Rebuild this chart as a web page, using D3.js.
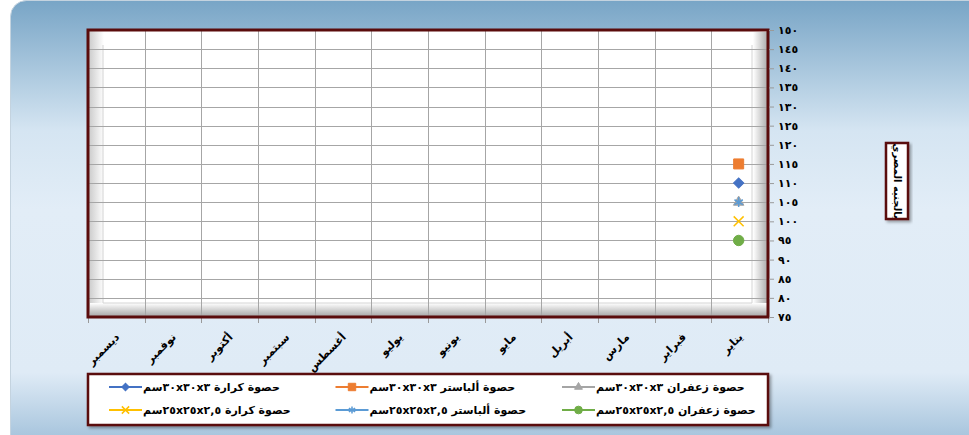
<!DOCTYPE html>
<html>
<head>
<meta charset="utf-8">
<script src="https://cdn.jsdelivr.net/npm/d3@7"></script>
<style>
	body { margin: 0; background: #fff; overflow: hidden }
	text { font-family: "DejaVu Sans", sans-serif; font-weight: bold; fill: #000 }
</style>
</head>
<body>
<div id="chart"></div>
<script>
// months, right to left (Jan on the right)
const months = ["يناير", "فبراير", "مارس", "أبريل", "مايو", "يونيو",
	"يوليو", "أغسطس", "سبتمبر", "أكتوبر", "نوفمبر", "ديسمبر"]

const seriesNames = [
	"حصوة كرارة ٣٠x٣٠x٣سم",
	"حصوة ألباستر ٣٠x٣٠x٣سم",
	"حصوة زعفران ٣٠x٣٠x٣سم",
	"حصوة كرارة ٢٥x٢٥x٢,٥سم",
	"حصوة ألباستر ٢٥x٢٥x٢,٥سم",
	"حصوة زعفران ٢٥x٢٥x٢,٥سم"
]

// only January has a price so far
const karara30 = [110, null, null, null, null, null, null, null, null, null, null, null]
const alabaster30 = [115, null, null, null, null, null, null, null, null, null, null, null]
const zaafaran30 = [105, null, null, null, null, null, null, null, null, null, null, null]
const karara25 = [100, null, null, null, null, null, null, null, null, null, null, null]
const alabaster25 = [105, null, null, null, null, null, null, null, null, null, null, null]
const zaafaran25 = [95, null, null, null, null, null, null, null, null, null, null, null]

const yTicks = [75, 80, 85, 90, 95, 100, 105, 110, 115, 120, 125, 130, 135, 140, 145, 150]
const yTitle = "بالجنيه المصري"

const seriesValues = [karara30, alabaster30, zaafaran30, karara25, alabaster25, zaafaran25]
const colors = ["#4472C4", "#ED7D31", "#A5A5A5", "#FFC000", "#5B9BD5", "#70AD47"]
const border = "#5a0c0c"

const arDigits = v => String(v).replace(/\d/g, c => "٠١٢٣٤٥٦٧٨٩"[c])

const W = 969, H = 435
const plot = {left: 88, right: 768, top: 30, bottom: 317}

const svg = d3.select("#chart")
	.append("svg")
	.attr("width", W)
	.attr("height", H)

const defs = svg.append("defs")

const bg = defs.append("linearGradient").attr("id", "bg")
	.attr("x1", 0).attr("y1", 0).attr("x2", 0).attr("y2", 1)
bg.append("stop").attr("offset", 0).attr("stop-color", "#78a5c6")
bg.append("stop").attr("offset", 0.28).attr("stop-color", "#d5e5f2")
bg.append("stop").attr("offset", 0.45).attr("stop-color", "#e2edf7")
bg.append("stop").attr("offset", 0.8).attr("stop-color", "#dfebf6")
bg.append("stop").attr("offset", 1).attr("stop-color", "#8fb4d2")

function bevel(id, x1, y1, x2, y2, from, to) {
	const g = defs.append("linearGradient").attr("id", id)
		.attr("x1", x1).attr("y1", y1).attr("x2", x2).attr("y2", y2)
	g.append("stop").attr("offset", 0).attr("stop-color", from)
	g.append("stop").attr("offset", 1).attr("stop-color", to)
}
bevel("bvLeft", 0, 0, 1, 0, "#cccccc", "#ffffff")
bevel("bvRight", 0, 0, 1, 0, "#ffffff", "#a9a9a9")
bevel("bvBottom", 0, 0, 0, 1, "#ffffff", "#a3a3a3")

const shadow = defs.append("filter").attr("id", "shadow")
	.attr("x", "-20%").attr("y", "-20%").attr("width", "140%").attr("height", "140%")
shadow.append("feDropShadow")
	.attr("dx", 2).attr("dy", 2).attr("stdDeviation", 1.5)
	.attr("flood-color", "#000").attr("flood-opacity", 0.35)

// chart background
svg.append("rect")
	.attr("x", 10.5).attr("y", 0.5)
	.attr("width", W + 20).attr("height", H + 30)
	.attr("rx", 16)
	.attr("fill", "url(#bg)")
	.attr("stroke", "#c4d3df")

const x = d3.scaleBand()
	.domain(months)
	.range([plot.right, plot.left])

const y = d3.scaleLinear()
	.domain([75, 150])
	.range([plot.bottom, plot.top])

// plot area with bevel
svg.append("rect")
	.attr("x", plot.left).attr("y", plot.top)
	.attr("width", plot.right - plot.left).attr("height", plot.bottom - plot.top)
	.attr("fill", "#fff")

svg.append("rect")
	.attr("x", plot.left + 1).attr("y", plot.top + 1)
	.attr("width", 15).attr("height", plot.bottom - plot.top - 2)
	.attr("fill", "url(#bvLeft)")
svg.append("rect")
	.attr("x", 753).attr("y", plot.top + 2)
	.attr("width", plot.right - 753).attr("height", plot.bottom - plot.top - 3)
	.attr("fill", "url(#bvRight)")
svg.append("rect")
	.attr("x", plot.left + 2).attr("y", 303)
	.attr("width", plot.right - plot.left - 3).attr("height", plot.bottom - 303)
	.attr("fill", "url(#bvBottom)")
svg.append("path")
	.attr("d", `M103,45V303H752V45`)
	.attr("fill", "none")
	.attr("stroke", "#d4d4d4")

// grid
svg.append("g")
	.selectAll("line")
	.data(yTicks.filter(d => d > 75 && d < 150))
	.enter().append("line")
	.attr("x1", plot.left).attr("x2", plot.right)
	.attr("y1", d => Math.round(y(d)) + 0.5).attr("y2", d => Math.round(y(d)) + 0.5)
	.attr("stroke", "#a6a6a6")

svg.append("g")
	.selectAll("line")
	.data(months.filter(m => x(m) > plot.left + 1))
	.enter().append("line")
	.attr("x1", d => Math.round(x(d)) + 0.5).attr("x2", d => Math.round(x(d)) + 0.5)
	.attr("y1", plot.top).attr("y2", plot.bottom)
	.attr("stroke", "#a6a6a6")

// x ticks at month boundaries
svg.append("g")
	.selectAll("line")
	.data(months.map(m => x(m)).concat([plot.right]))
	.enter().append("line")
	.attr("x1", d => Math.round(d) + 0.5).attr("x2", d => Math.round(d) + 0.5)
	.attr("y1", plot.bottom).attr("y2", plot.bottom + 6)
	.attr("stroke", "#9a9a9a")

svg.append("rect")
	.attr("x", plot.left).attr("y", plot.top)
	.attr("width", plot.right - plot.left).attr("height", plot.bottom - plot.top)
	.attr("fill", "none")
	.attr("stroke", border)
	.attr("stroke-width", 3)

// y axis on the right
const yAxisGroup = svg.append("g")
	.attr("transform", `translate(${plot.right + 1},0)`)
	.call(d3.axisRight(y).tickValues(yTicks).tickFormat(arDigits).tickSize(5).tickPadding(4))
yAxisGroup.select(".domain").remove()
yAxisGroup.selectAll(".tick line").attr("stroke", "#9a9a9a")
yAxisGroup.selectAll("text")
	.attr("font-size", 11)
	.attr("font-family", null)
	.attr("fill", "#000")

// x labels
svg.append("g")
	.selectAll("text")
	.data(months)
	.enter().append("text")
	.attr("transform", d => `translate(${x(d) + x.bandwidth() / 2 + 1},${plot.bottom + 18}) rotate(-45)`)
	.attr("text-anchor", "end")
	.attr("dy", "0.35em")
	.attr("font-size", 11)
	.text(d => d)

// markers: diamond, square, triangle, x, asterisk, circle
const symbolTypes = [d3.symbolSquare, d3.symbolSquare, d3.symbolTriangle,
	d3.symbolTimes, d3.symbolAsterisk, d3.symbolCircle]
const symbolSizes = [52, 100, 48, 66, 66, 85]
const stroked = [false, false, false, true, true, false]

function drawMarker(g, i, scale) {
	const p = g.append("path")
		.attr("d", d3.symbol().type(symbolTypes[i]).size(symbolSizes[i] * scale)())
		.attr("transform", i === 0 ? "rotate(45)" : null)
	if (stroked[i]) p.attr("fill", "none").attr("stroke", colors[i]).attr("stroke-width", 1.5)
	else p.attr("fill", colors[i]).attr("stroke", colors[i])
}

seriesValues.forEach((vals, i) => {
	vals.forEach((v, j) => {
		if (v === null) return
		const g = svg.append("g")
			.attr("transform", `translate(${x(months[j]) + x.bandwidth() / 2 - 1},${y(v)})`)
		drawMarker(g, i, 1)
	})
})

// y title box
svg.append("rect")
	.attr("x", 886).attr("y", 143)
	.attr("width", 22).attr("height", 76)
	.attr("fill", "#fff")
	.attr("stroke", border)
	.attr("stroke-width", 2.5)
	.attr("filter", "url(#shadow)")
svg.append("text")
	.attr("transform", "translate(897,181) rotate(90)")
	.attr("text-anchor", "middle")
	.attr("dy", "0.35em")
	.attr("font-size", 10)
	.text(yTitle)

// legend
const legend = svg.append("g")
legend.append("rect")
	.attr("x", 88).attr("y", 374)
	.attr("width", 680).attr("height", 51)
	.attr("fill", "#fff")
	.attr("stroke", border)
	.attr("stroke-width", 2.5)
	.attr("filter", "url(#shadow)")

seriesNames.forEach((name, i) => {
	const lx = 109 + (i % 3) * 226.5
	const ly = 387 + Math.floor(i / 3) * 23
	const item = legend.append("g")
	item.append("line")
		.attr("x1", lx).attr("x2", lx + 33)
		.attr("y1", ly).attr("y2", ly)
		.attr("stroke", colors[i])
		.attr("stroke-width", 2)
	drawMarker(item.append("g").attr("transform", `translate(${lx + 16.5},${ly})`), i, 0.55)
	item.append("text")
		.attr("x", lx + 34)
		.attr("y", ly)
		.attr("dy", "0.35em")
		.attr("direction", "rtl")
		.attr("text-anchor", "end")
		.attr("font-size", 11)
		.text(name)
})
</script>
</body>
</html>
